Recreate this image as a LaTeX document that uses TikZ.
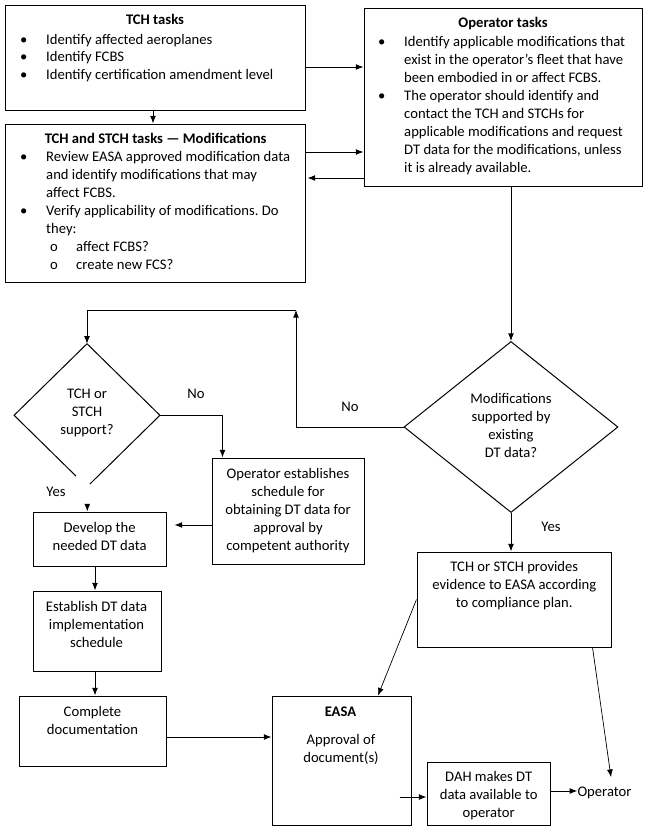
\documentclass[tikz,border=0pt]{standalone}
\usepackage{fontspec}
\setmainfont{Carlito}
\usepackage{tikz}
\usetikzlibrary{calc}
\usetikzlibrary{fit}
\usetikzlibrary{positioning}
\usetikzlibrary{shapes.geometric}
\usetikzlibrary{arrows.meta}
\tikzset{>={Latex[length=6.5pt,width=5pt]}}
\frenchspacing
\newcommand{\fsz}{\fontsize{12.5}{15.36}\selectfont}
\newcommand{\lines}[1]{\begin{tabular}[t]{@{}c@{}}#1\end{tabular}}
\newcommand{\blist}[1]{\begin{tabular}[t]{@{}p{0.78cm}@{}l@{}}#1\end{tabular}}
\newcommand{\sub}{\hspace{0.12cm}\makebox[0.78cm][l]{o}}
\tikzset{
	box/.style={draw, line width=0.85pt, inner sep=0pt},
	txt/.style={inner sep=0pt, anchor=base, font=\fsz},
	lst/.style={inner sep=0pt, anchor=base west, font=\fsz},
	con/.style={line width=0.8pt, ->},
	thin con/.style={line width=0.6pt, ->},
}

\begin{document}
\begin{tikzpicture}[x=0.03cm, y=-0.03cm]
		\useasboundingbox (0,0) rectangle (649,832);
		% boxes
		\node[box, fit={(5,5) (305,110)}] (tch) {};
		\node[box, fit={(5,124) (305,282)}] (mod) {};
		\node[box, fit={(364,8) (642,186)}] (opt) {};
		\node[box, fit={(212,458) (364,564)}] (oes) {};
		\node[box, fit={(33,512) (166,566)}] (dev) {};
		\node[box, fit={(33,591) (161,671)}] (est) {};
		\node[box, fit={(19.5,696) (166,766)}] (cmp) {};
		\node[box, fit={(272,696) (411,825)}] (easa) {};
		\node[box, fit={(427,762) (550,825)}] (dah) {};
		\node[box, fit={(417,552) (611,647)}] (evd) {};
		\node[diamond, draw, line width=0.85pt, inner sep=0pt, minimum width=6.42cm, minimum height=5.13cm] (dq) at (511,427) {};
		\node[diamond, inner sep=0pt, minimum width=4.36cm, minimum height=4.28cm] (sq) at (87,415.3) {};
		\draw[line width=0.85pt] ($(sq.west)!0.85!(sq.south)$) -- (sq.west) -- (sq.north) -- (sq.east) -- ($(sq.east)!0.96!(sq.south)$);

		% texts
		\node[txt, font=\fsz\bfseries] (tch-h) at (155,24.5) {TCH tasks};
		\node[lst] (tch-l) at (20,44) {\blist{\textbullet & Identify affected aeroplanes\\
			\textbullet & Identify FCBS\\
			\textbullet & Identify certification amendment level}};
		\node[txt, font=\fsz\bfseries] (mod-h) at (155.6,143.8) {TCH and STCH tasks — Modifications};
		\node[lst] (mod-l) at (20,161.8) {\blist{\textbullet & Review EASA approved modification data\\
			& and identify modifications that may\\
			& affect FCBS.\\
			\textbullet & Verify applicability of modifications. Do\\
			& they:\\
			& \sub affect FCBS?\\
			& \sub create new FCS?}};
		\node[txt, font=\fsz\bfseries] (opt-h) at (503,27.8) {Operator tasks};
		\node[lst] (opt-l) at (378,46.2) {\blist{\textbullet & Identify applicable modifications that\\
			& exist in the operator’s fleet that have\\
			& been embodied in or affect FCBS.\\
			\textbullet & The operator should identify and\\
			& contact the TCH and STCHs for\\
			& applicable modifications and request\\
			& DT data for the modifications, unless\\
			& it is already available.}};
		\node[txt] (sq-t) at (87,398.8) {\lines{TCH or\\STCH\\support?}};
		\node[txt] (dq-t) at (511,403.8) {\lines{Modifications\\supported by\\existing\\DT data?}};
		\node[txt] (oes-t) at (288,478.8) {\lines{Operator establishes\\schedule for\\obtaining DT data for\\approval by\\competent authority}};
		\node[txt] (dev-t) at (99.6,532.2) {\lines{Develop the\\needed DT data}};
		\node[txt] (est-t) at (96.5,611.2) {\lines{Establish DT data\\implementation\\schedule}};
		\node[txt] (cmp-t) at (92.5,716.2) {\lines{Complete\\documentation}};
		\node[txt, font=\fsz\bfseries] (easa-h) at (340.5,716.2) {EASA};
		\node[txt] (easa-t) at (341,744.8) {\lines{Approval of\\document(s)}};
		\node[txt] (dah-t) at (488.7,781.8) {\lines{DAH makes DT\\data available to\\operator}};
		\node[txt] (evd-t) at (514.3,571.8) {\lines{TCH or STCH provides\\evidence to EASA according\\to compliance plan.}};
		\node[txt] (opr) at (604.5,796.8) {Operator};
		\node[txt] (no1) at (196,398.8) {No};
		\node[txt] (no2) at (350,411.2) {No};
		\node[txt] (yes1) at (56,496) {Yes};
		\node[txt] (yes2) at (551,531.2) {Yes};

		% connectors
		\coordinate (nup) at (296,310);
		\coordinate (yin) at (87.3,504);
		\draw[con] ($(tch.east)+(0,9.5)$) coordinate (t1) -- (t1 -| opt.west);
		\draw[con] ($(tch.south)+(-2,0)$) coordinate (t2) -- (t2 |- mod.north);
		\draw[con] ($(mod.east)+(0,-51)$) coordinate (m1) -- (m1 -| opt.west);
		\draw[con] ($(opt.west)+(0,81)$) coordinate (o1) -- ($(o1 -| mod.east)+(2,0)$);
		\draw[con] (dq.north |- opt.south) -- (dq.north);
		\draw[con] (dq.west) -| (nup);
		\draw[con] (nup) -| (sq.north);
		\draw[con] (sq.east) -| ($(oes.north west)+(11,0)$);
		\draw[con] ($(oes.west)+(0,14)$) coordinate (e1) -- ($(e1 -| dev.east)+(8,0)$);
		\draw[con] (yin) -- (yin |- dev.north);
		\draw[con] ($(dev.south)+(-4.5,0)$) coordinate (d1) -- (d1 |- est.north);
		\draw[con] ($(est.south)+(-2,0)$) coordinate (s1) -- (s1 |- cmp.north);
		\draw[con] ($(cmp.east)+(0,6)$) coordinate (c1) -- (c1 -| easa.west);
		\draw[con] ($(easa.east)+(-12,36.5)$) coordinate (a1) -- (a1 -| dah.west);
		\draw[con] ($(dah.east)+(0,-2.5)$) coordinate (h1) -- (h1 -| opr.west);
		\draw[con] (dq.south) -- (dq.south |- evd.north);
		\draw[thin con] (evd.west) -- ($(easa.north)+(36.5,0)$);
		\draw[thin con] ($(evd.south)+(78.5,0)$) -- ($(opr.north)+(6.5,-10)$);
	\end{tikzpicture}
\end{document}
